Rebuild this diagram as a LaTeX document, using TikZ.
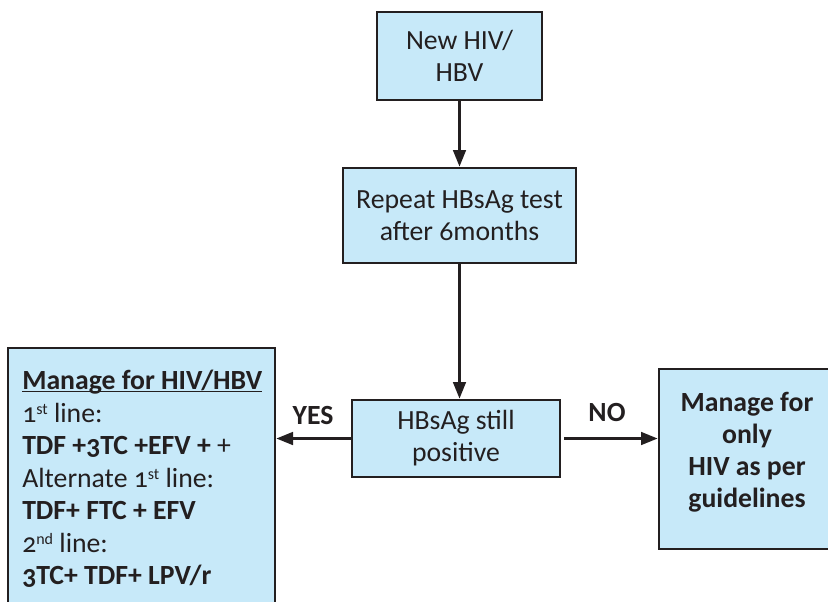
\documentclass[tikz,border=0pt]{standalone}
\usepackage{fontspec}
\setmainfont{Carlito}[Numbers=OldStyle]
\usetikzlibrary{arrows.meta}
\definecolor{boxfill}{HTML}{C7E9F9}
\definecolor{ink}{HTML}{231F20}
\newcommand{\supx}[1]{\raisebox{0.62ex}{\fontsize{12pt}{12pt}\selectfont #1}}
\newcommand{\ulx}[1]{\setbox0\hbox{#1}\rlap{\rule[-2pt]{\wd0}{1pt}}\box0}
\tikzset{
  flowbox/.style={draw=ink, line width=2pt, fill=boxfill, text=ink, align=center,
    inner sep=0pt, font=\fontsize{20.8pt}{24pt}\selectfont},
  flowarrow/.style={draw=ink, line width=2pt, -{Triangle[length=12.5pt,width=9.5pt]}},
  lbl/.style={text=ink, font=\fontsize{20.8pt}{24pt}\selectfont\bfseries},
  bodytext/.style={text=ink, inner sep=0pt, font=\fontsize{20.8pt}{24.4pt}\selectfont}
}
\begin{document}
\begin{tikzpicture}[x=0.75pt,y=-0.75pt]
\useasboundingbox (0,0) rectangle (828,601);
\clip (0,0) rectangle (828,601);
\fill[white] (0,0) rectangle (828,601);
\node[flowbox, minimum width=123.75pt, minimum height=66pt] (n1) at (459.5,56) {New HIV/\\HBV};
\node[flowbox, minimum width=174.75pt, minimum height=71.25pt] (n2) at (459.5,215.5) {Repeat HBsAg test\\after 6months};
\node[flowbox, minimum width=156pt, minimum height=57.75pt] (n3) at (456,438.5) {HBsAg still\\positive};
\node[flowbox, minimum width=200.25pt, minimum height=226.5pt] (yesbox) at (141.5,499) {};
\node[flowbox, minimum width=132pt, minimum height=135pt] (nobox) at (747,459) {};
\node[bodytext, align=left, anchor=north west] (yestext) at (22,370) {\textbf{\ulx{Manage for HIV/HBV}}\\
1\supx{st} line:\\
\textbf{TDF +3TC +EFV +} +\\
Alternate 1\supx{st} line:\\
\textbf{TDF+ FTC + EFV}\\
2\supx{nd} line:\\
\textbf{3TC+ TDF+ LPV/r}};
\node[bodytext, align=center, font=\fontsize{20.8pt}{24pt}\selectfont\bfseries] (notext) at (747,452) {Manage for\\only\\HIV as per\\guidelines};
\draw[flowarrow] (n1.south) -- (n1.south |- n2.north);
\draw[flowarrow] (n2.south) -- (n2.south |- n3.north);
\draw[flowarrow] (n3.west) -- (n3.west -| yesbox.east);
\draw[flowarrow] ([xshift=2pt]n3.east) -- (n3.east -| nobox.west);
\node[lbl] (yes) at (313,415) {YES};
\node[lbl] (no) at (607,412) {NO};
\end{tikzpicture}
\end{document}
